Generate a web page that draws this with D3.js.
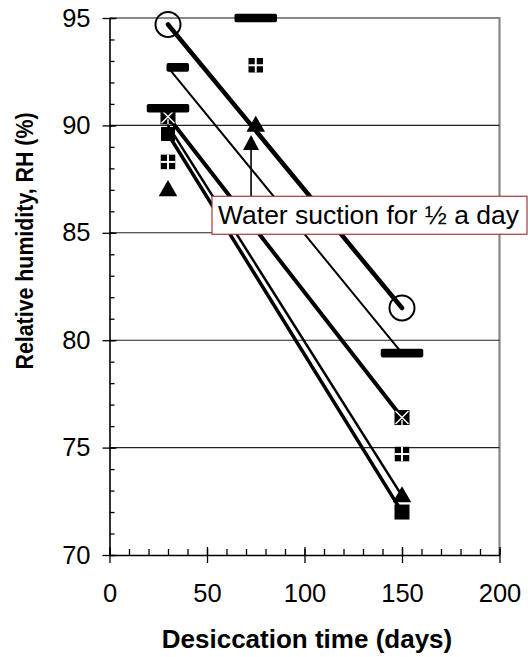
<!DOCTYPE html>
<html>
<head>
<meta charset="utf-8">
<script src="https://cdn.jsdelivr.net/npm/d3@7"></script>
<style>
  html, body { margin: 0; padding: 0; background: #fff; }
  svg { display: block; }
  text { font-family: Arial, "Liberation Sans", sans-serif; fill: #000; }
</style>
</head>
<body>
<svg id="chart" width="528" height="657"></svg>
<script>
// ---------------- data ----------------
const yTickLabels = [70, 75, 80, 85, 90, 95];
const xTickLabels = [0, 50, 100, 150, 200];
const gridValues = [75, 80, 85, 90];

// connected series: [day, RH]
const circleSeries   = [[30, 94.7], [150, 81.5]];
const thinSeries     = [[30, 92.7], [150, 79.4]];
const xSquareSeries  = [[30, 90.4], [150, 76.4]];
const triangleSeries = [[30, 90.0], [150, 72.75]];
const squareSeries   = [[30, 89.6], [150, 72.0]];

// marker-only series
const dashWidePoints   = [[30, 90.8], [75, 95.0], [150, 79.4]];
const dashShortPoints  = [[35, 92.7]];
const crossSquarePoints = [[30, 88.3], [75, 92.8], [150, 74.7]];
const triangleOnlyPoints = [[30, 87.0], [75, 90.0]];

// annotation
const annotationText = "Water suction for \u00BD a day";
const arrowDay = 72.6, arrowFromRH = 86.7, arrowToRH = 89.55;

// ---------------- layout ----------------
const svg = d3.select("#chart");
const x = d3.scaleLinear().domain([0, 200]).range([109.5, 499.5]);
const y = d3.scaleLinear().domain([70, 95]).range([555, 18]);

// plot frame (gray top / right)
svg.append("path")
  .attr("d", `M${x(0)},${y(95)}H${x(200)}V${y(70)}`)
  .attr("fill", "none").attr("stroke", "#888").attr("stroke-width", 2.2);

// gridlines
svg.append("g").selectAll("line").data(gridValues).join("line")
  .attr("x1", x(0)).attr("x2", x(200))
  .attr("y1", d => y(d)).attr("y2", d => y(d))
  .attr("stroke", "#222").attr("stroke-width", 1.1);

// ---------------- axes ----------------
const yMinor = d3.range(70, 95.01, 1);
svg.append("g").attr("transform", `translate(${x(0)},0)`)
  .call(d3.axisRight(y).tickValues(yMinor).tickSize(5).tickFormat(""))
  .call(g => g.select(".domain").remove())
  .call(g => g.selectAll(".tick line").attr("stroke", "#000").attr("stroke-width", 1.3));

const yAx = svg.append("g").attr("transform", `translate(${x(0)},0)`)
  .call(d3.axisLeft(y).tickValues(yTickLabels).tickSize(7).tickPadding(12).tickSizeOuter(0));
yAx.select(".domain").attr("stroke", "#000").attr("stroke-width", 1.6);
yAx.selectAll(".tick line").attr("x1", 7).attr("stroke", "#000").attr("stroke-width", 1.3);
yAx.selectAll(".tick text").attr("font-size", 25.5).style("font-family", 'Arial, "Liberation Sans", sans-serif');

const xMinor = d3.range(0, 200.01, 10);
svg.append("g").attr("transform", `translate(0,${y(70)})`)
  .call(d3.axisTop(x).tickValues(xMinor).tickSize(6).tickFormat(""))
  .call(g => g.select(".domain").remove())
  .call(g => g.selectAll(".tick line").attr("stroke", "#000").attr("stroke-width", 1.3));

const xAx = svg.append("g").attr("transform", `translate(0,${y(70)})`)
  .call(d3.axisBottom(x).tickValues(xTickLabels).tickSize(8).tickPadding(21).tickSizeOuter(0));
xAx.select(".domain").attr("stroke", "#000").attr("stroke-width", 1.6);
xAx.selectAll(".tick line").attr("y1", -8).attr("stroke", "#000").attr("stroke-width", 1.3);
xAx.selectAll(".tick text").attr("font-size", 25.5).style("font-family", 'Arial, "Liberation Sans", sans-serif');

// titles
svg.append("text")
  .attr("x", 307).attr("y", 648)
  .attr("text-anchor", "middle").attr("font-size", 26).attr("font-weight", "bold")
  .text("Desiccation time (days)");

svg.append("text")
  .attr("transform", "translate(33,241) rotate(-90)")
  .attr("text-anchor", "middle").attr("font-size", 23.5).attr("font-weight", "bold")
  .attr("textLength", 257).attr("lengthAdjust", "spacingAndGlyphs")
  .text("Relative humidity, RH (%)");

// ---------------- series lines ----------------
const line = d3.line().x(d => x(d[0])).y(d => y(d[1]));
const lineDefs = [
  { data: squareSeries, w: 3.5 },
  { data: triangleSeries, w: 2.5 },
  { data: xSquareSeries, w: 4 },
  { data: thinSeries, w: 2 },
  { data: circleSeries, w: 4.5 }
];
svg.append("g").selectAll("path").data(lineDefs).join("path")
  .attr("d", d => line(d.data))
  .attr("fill", "none").attr("stroke", "#000")
  .attr("stroke-width", d => d.w).attr("stroke-linecap", "round");

// ---------------- markers ----------------
const mk = svg.append("g");

function dashes(points, w) {
  mk.append("g").selectAll("rect").data(points).join("rect")
    .attr("x", d => x(d[0]) - w / 2).attr("y", d => y(d[1]) - 4.3)
    .attr("width", w).attr("height", 8.6).attr("rx", 1.8)
    .attr("fill", "#000");
}
function triangles(points, s) {
  const tri = d3.symbol().type(d3.symbolTriangle).size(s);
  mk.append("g").selectAll("path").data(points).join("path")
    .attr("transform", d => `translate(${x(d[0])},${y(d[1]) + 1})`)
    .attr("d", tri).attr("fill", "#000");
}
function squares(points, s) {
  mk.append("g").selectAll("rect").data(points).join("rect")
    .attr("x", d => x(d[0]) - s / 2).attr("y", d => y(d[1]) - s / 2)
    .attr("width", s).attr("height", s).attr("fill", "#000");
}
function crossSquares(points, s) {
  const g = mk.append("g").selectAll("g").data(points).join("g")
    .attr("transform", d => `translate(${x(d[0])},${y(d[1])})`);
  g.append("rect").attr("x", -s / 2).attr("y", -s / 2).attr("width", s).attr("height", s).attr("fill", "#000");
  g.append("line").attr("x1", -s / 2).attr("x2", s / 2).attr("y1", 0).attr("y2", 0).attr("stroke", "#fff").attr("stroke-width", 2);
  g.append("line").attr("y1", -s / 2).attr("y2", s / 2).attr("x1", 0).attr("x2", 0).attr("stroke", "#fff").attr("stroke-width", 2);
}
function xSquares(points, s) {
  const g = mk.append("g").selectAll("g").data(points).join("g")
    .attr("transform", d => `translate(${x(d[0])},${y(d[1])})`);
  g.append("rect").attr("x", -s / 2).attr("y", -s / 2).attr("width", s).attr("height", s).attr("fill", "#000");
  g.append("path").attr("d", `M${-s/2+1},${-s/2+1}L${s/2-1},${s/2-1}M${s/2-1},${-s/2+1}L${-s/2+1},${s/2-1}M0,${s/6}V${s/2}`)
    .attr("stroke", "#fff").attr("stroke-width", 1.4);
}
function circles(points, r) {
  mk.append("g").selectAll("circle").data(points).join("circle")
    .attr("cx", d => x(d[0])).attr("cy", d => y(d[1])).attr("r", r)
    .attr("fill", "none").attr("stroke", "#000").attr("stroke-width", 2);
}

xSquares(xSquareSeries, 15);
squares(squareSeries.slice(0, 1), 14);
triangles([triangleSeries[1]], 150);
squares(squareSeries.slice(1), 15);
triangles(triangleOnlyPoints, 150);
crossSquares(crossSquarePoints, 14.5);
dashes(dashWidePoints, 42.5);
dashes(dashShortPoints, 22.5);
circles(circleSeries, 12.5);

// ---------------- annotation ----------------
const ax = x(arrowDay);
svg.append("line")
  .attr("x1", ax).attr("x2", ax).attr("y1", y(arrowFromRH)).attr("y2", y(arrowToRH) + 12)
  .attr("stroke", "#000").attr("stroke-width", 1.6);
svg.append("path")
  .attr("d", `M${ax},${y(arrowToRH)}L${ax + 8},${y(arrowToRH) + 15}L${ax - 8},${y(arrowToRH) + 15}Z`)
  .attr("fill", "#000");

const boxTop = y(arrowFromRH);
svg.append("rect")
  .attr("x", 212).attr("y", boxTop).attr("width", 315).attr("height", 38)
  .attr("fill", "#fff").attr("stroke", "#9e3a3a").attr("stroke-width", 1.2);
svg.append("text")
  .attr("x", 218).attr("y", boxTop + 28)
  .attr("font-size", 26.5)
  .text(annotationText);
</script>
</body>
</html>
